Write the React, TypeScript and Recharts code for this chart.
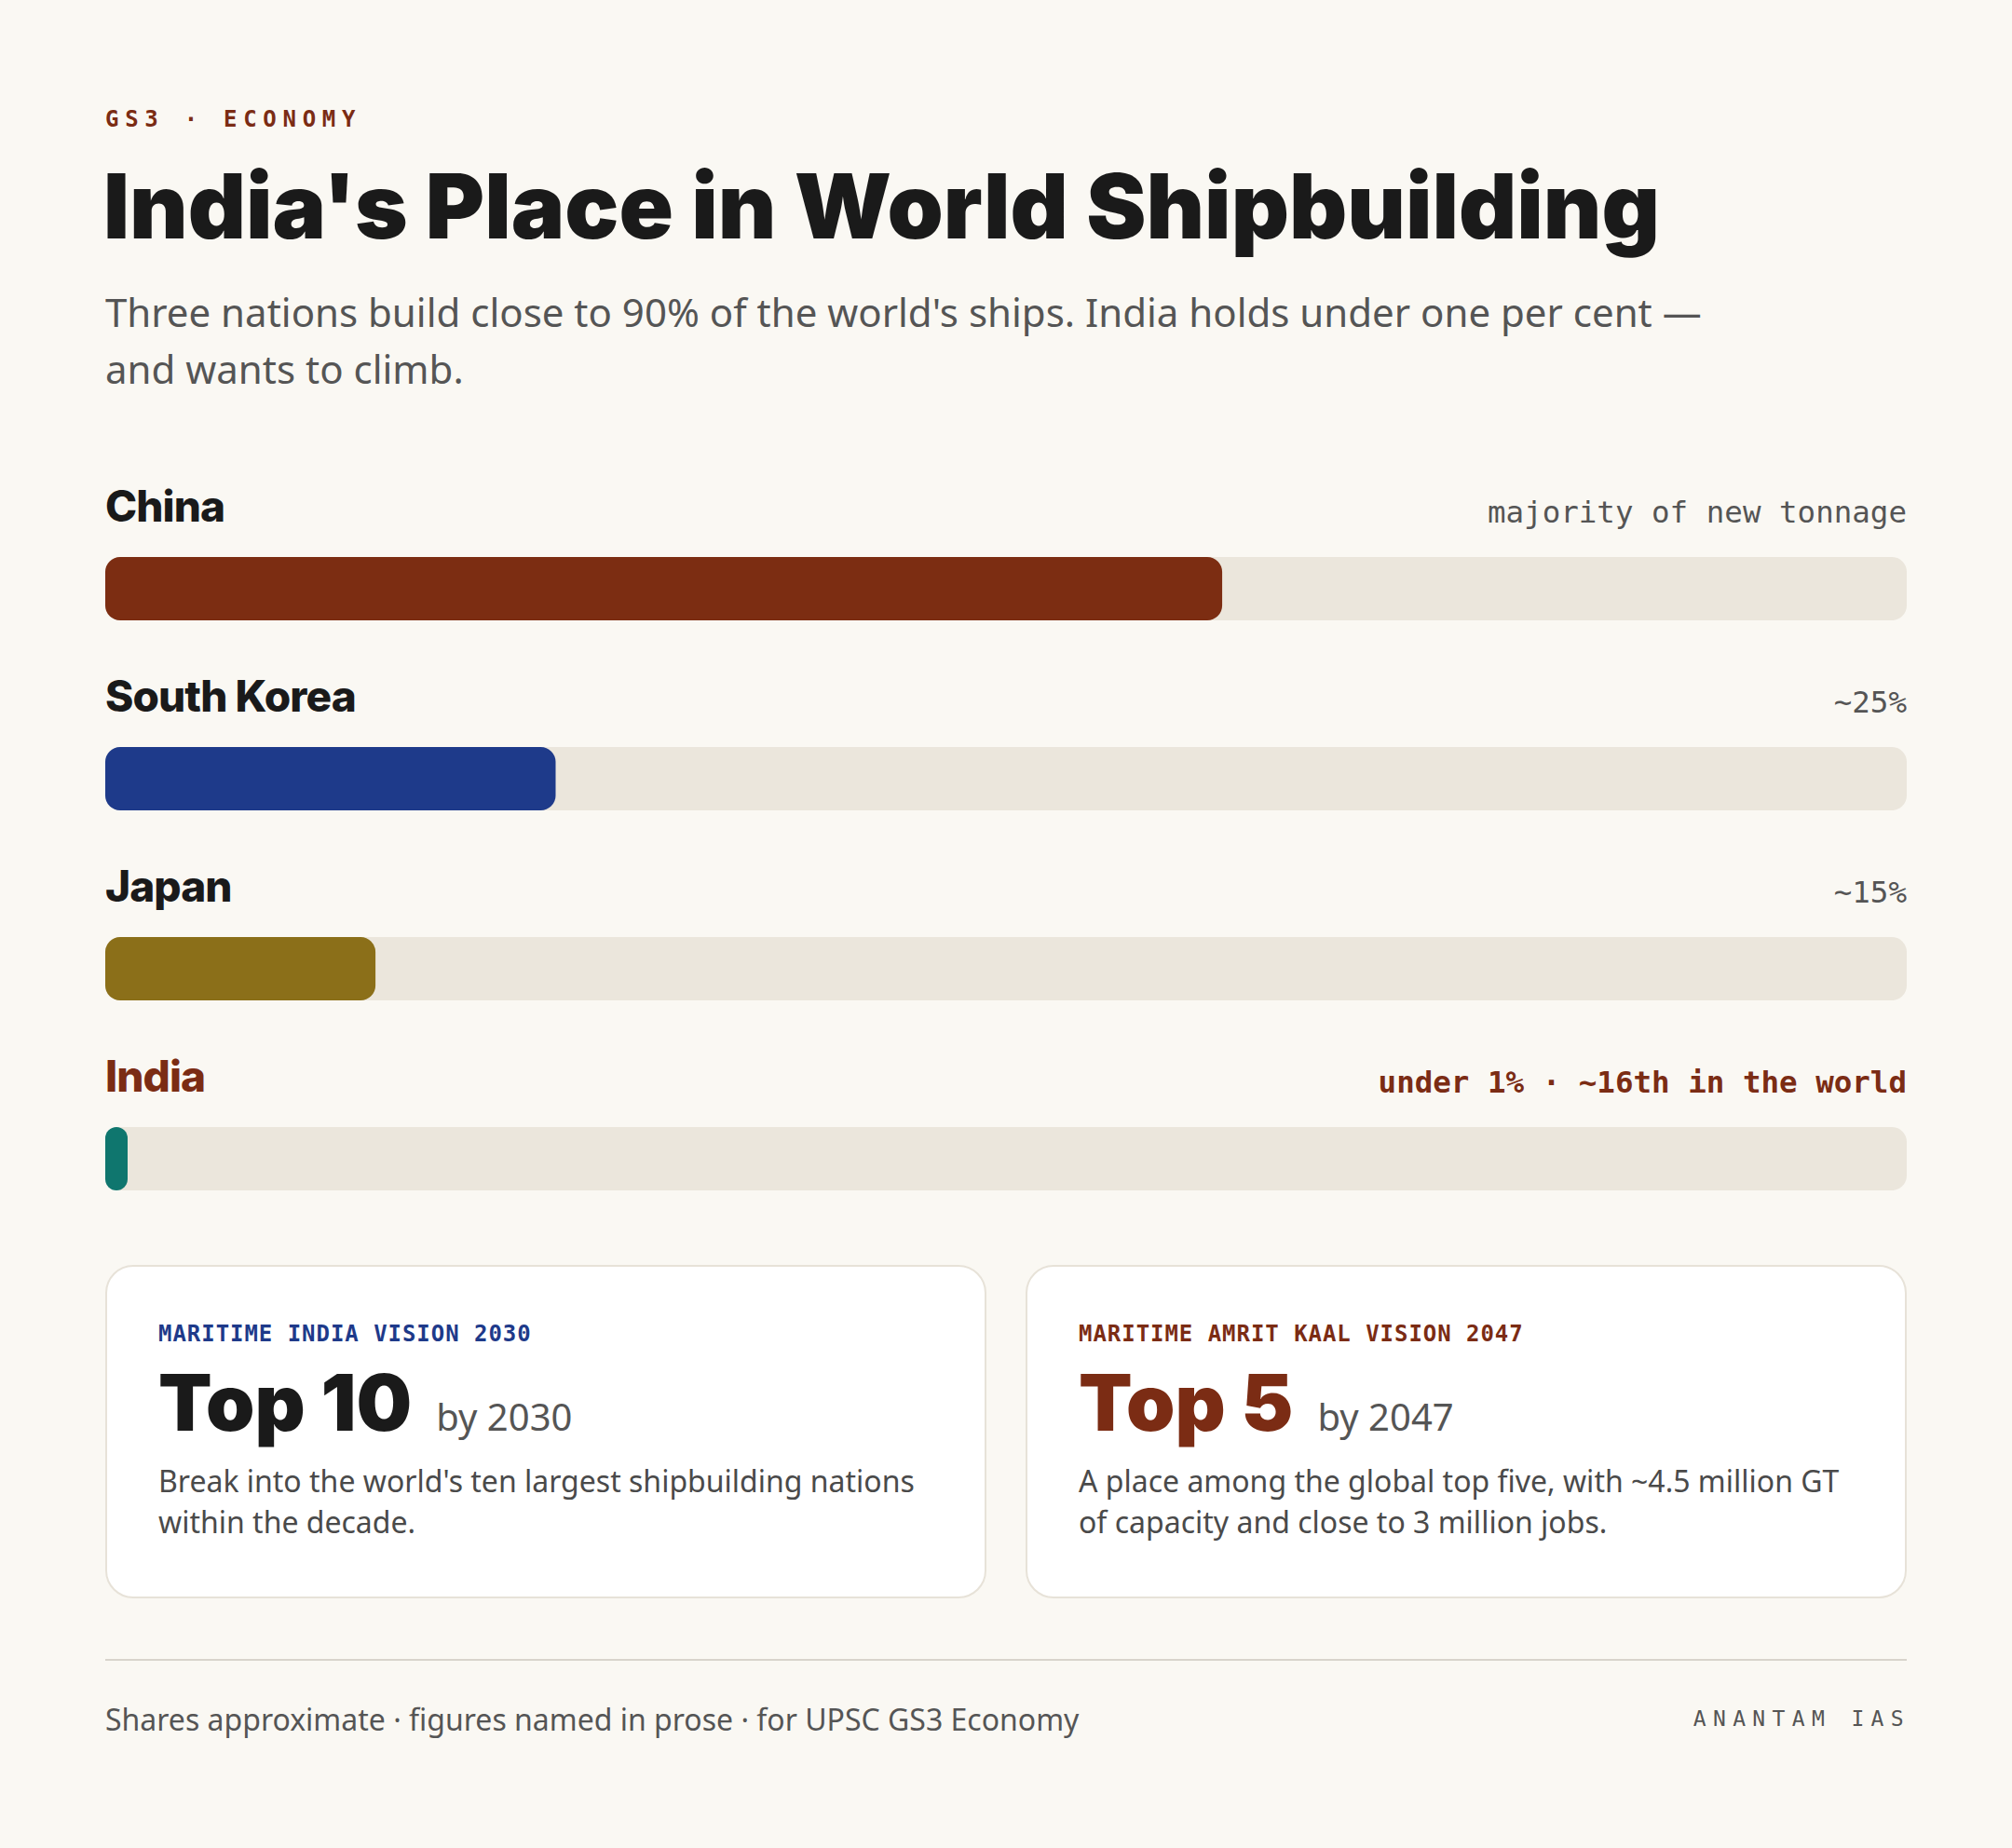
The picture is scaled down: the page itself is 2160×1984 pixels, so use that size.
import React from 'react';
import { Bar, BarChart, Cell, LabelList, XAxis, YAxis } from 'recharts';

const COUNTRIES = ['China', 'South Korea', 'Japan', 'India'];
const SHARES = [62, 25, 15, 0.8];
const NOTES = ['majority of new tonnage', '~25%', '~15%', 'under 1% · ~16th in the world'];
const BAR_COLORS = ['#7c2d12', '#1e3a8a', '#8b6f19', '#0f766e'];

const CARD_TAGS = ['MARITIME INDIA VISION 2030', 'MARITIME AMRIT KAAL VISION 2047'];
const CARD_HEADS = ['Top 10', 'Top 5'];
const CARD_BY = ['by 2030', 'by 2047'];
const CARD_TEXT = [
   "Break into the world's ten largest shipbuilding nations within the decade.",
   'A place among the global top five, with ~4.5 million GT of capacity and close to 3 million jobs.',
];
const CARD_TAG_COLORS = ['#1e3a8a', '#7b2c14'];
const CARD_HEAD_COLORS = ['#1a1a1a', '#7b2c14'];

const rows = COUNTRIES.map((name, i) => ({ name, share: SHARES[i], note: NOTES[i] }));

const RUST = '#7b2c14';
const INK = '#1a1a1a';
const MUTED = '#555555';
const SANS = '"Noto Sans", sans-serif';
const MONO = '"DejaVu Sans Mono", monospace';
const DISPLAY = 'Inter, sans-serif';

const CHART_W = 1934;
const ROW_H = 204;
const CHART_TOP = 40;

const renderName = (props: any) => {
   const vb = props.viewBox || props;
   const i = COUNTRIES.indexOf(props.value);
   return (
      <text
         x={vb.x}
         y={vb.y - 38}
         fontFamily={DISPLAY}
         fontWeight={800}
         fontSize={46}
         fill={i === 3 ? RUST : INK}
         style={{ letterSpacing: '-0.02em' }}
      >
         {props.value}
      </text>
   );
};

const renderNote = (props: any) => {
   const vb = props.viewBox || props;
   const i = NOTES.indexOf(props.value);
   return (
      <text
         x={CHART_W}
         y={vb.y - 37}
         textAnchor="end"
         fontFamily={MONO}
         fontWeight={i === 3 ? 700 : 400}
         fontSize={32.5}
         fill={i === 3 ? RUST : MUTED}
      >
         {props.value}
      </text>
   );
};

const Card: React.FC<{ i: number; left: number }> = ({ i, left }) => (
   <div
      style={{
         position: 'absolute',
         left,
         top: 1358,
         width: 946,
         height: 358,
         boxSizing: 'border-box',
         background: '#ffffff',
         border: '2px solid #e7e2d8',
         borderRadius: 30,
      }}
   >
      <div
         style={{
            position: 'absolute',
            left: 55,
            top: 60,
            fontFamily: MONO,
            fontWeight: 700,
            fontSize: 24,
            lineHeight: 1,
            letterSpacing: '0.04em',
            color: CARD_TAG_COLORS[i],
            whiteSpace: 'nowrap',
         }}
      >
         {CARD_TAGS[i]}
      </div>
      <div
         style={{
            position: 'absolute',
            left: 55,
            top: 104,
            display: 'flex',
            alignItems: 'baseline',
            whiteSpace: 'nowrap',
            lineHeight: 1,
         }}
      >
         <span
            style={{
               fontFamily: DISPLAY,
               fontWeight: 900,
               fontSize: 84,
               letterSpacing: '0em',
               color: CARD_HEAD_COLORS[i],
            }}
         >
            {CARD_HEADS[i]}
         </span>
         <span style={{ fontFamily: SANS, fontSize: 40, color: MUTED, marginLeft: 26 }}>
            {CARD_BY[i]}
         </span>
      </div>
      <div
         style={{
            position: 'absolute',
            left: 55,
            top: 208,
            width: 836,
            fontFamily: SANS,
            fontSize: 32,
            lineHeight: '44px',
            color: '#4a4a4a',
         }}
      >
         {CARD_TEXT[i]}
      </div>
   </div>
);

const App: React.FC = () => {
   return (
      <div
         style={{
            position: 'relative',
            width: 2160,
            height: 1984,
            background: '#faf8f3',
            overflow: 'hidden',
         }}
      >
         <style>{'body{margin:0;background:#faf8f3}'}</style>

         <div
            style={{
               position: 'absolute',
               left: 113,
               top: 116,
               fontFamily: MONO,
               fontWeight: 700,
               fontSize: 24,
               lineHeight: 1,
               letterSpacing: '0.28em',
               color: RUST,
               whiteSpace: 'nowrap',
            }}
         >
            GS3 · ECONOMY
         </div>

         <div
            style={{
               position: 'absolute',
               left: 111,
               top: 173,
               fontFamily: DISPLAY,
               fontWeight: 900,
               fontSize: 96.5,
               lineHeight: 1,
               letterSpacing: '0em',
               color: INK,
               whiteSpace: 'nowrap',
            }}
         >
            India's Place in World Shipbuilding
         </div>

         <div
            style={{
               position: 'absolute',
               left: 113,
               top: 304,
               width: 1760,
               fontFamily: SANS,
               fontSize: 42,
               lineHeight: '61px',
               color: MUTED,
            }}
         >
            Three nations build close to 90% of the world's ships. India holds under one per cent —
            and wants to climb.
         </div>

         <div style={{ position: 'absolute', left: 113, top: 530 - CHART_TOP }}>
            <BarChart
               width={CHART_W}
               height={ROW_H * rows.length + CHART_TOP}
               data={rows}
               layout="vertical"
               margin={{ top: CHART_TOP, right: 0, bottom: 0, left: 0 }}
               barSize={68}
            >
               <XAxis type="number" domain={[0, 100]} hide />
               <YAxis type="category" dataKey="name" hide />
               <Bar
                  dataKey="share"
                  radius={16}
                  minPointSize={24}
                  background={{ fill: '#ebe6dc', radius: 16 }}
                  isAnimationActive={false}
               >
                  {rows.map((r, i) => (
                     <Cell key={r.name} fill={BAR_COLORS[i]} />
                  ))}
                  <LabelList dataKey="name" content={renderName} />
                  <LabelList dataKey="note" content={renderNote} />
               </Bar>
            </BarChart>
         </div>

         <Card i={0} left={113} />
         <Card i={1} left={1101} />

         <div
            style={{
               position: 'absolute',
               left: 113,
               top: 1781,
               width: 1934,
               height: 2,
               background: '#d8d4cc',
            }}
         />

         <div
            style={{
               position: 'absolute',
               left: 113,
               top: 1830,
               fontFamily: SANS,
               fontSize: 32,
               lineHeight: 1,
               color: MUTED,
               whiteSpace: 'nowrap',
            }}
         >
            Shares approximate · figures named in prose · for UPSC GS3 Economy
         </div>

         <div
            style={{
               position: 'absolute',
               right: 113,
               top: 1834,
               fontFamily: MONO,
               fontSize: 23,
               lineHeight: 1,
               letterSpacing: '0.32em',
               color: MUTED,
               whiteSpace: 'nowrap',
               marginRight: -4,
            }}
         >
            ANANTAM IAS
         </div>
      </div>
   );
};

export default App;
